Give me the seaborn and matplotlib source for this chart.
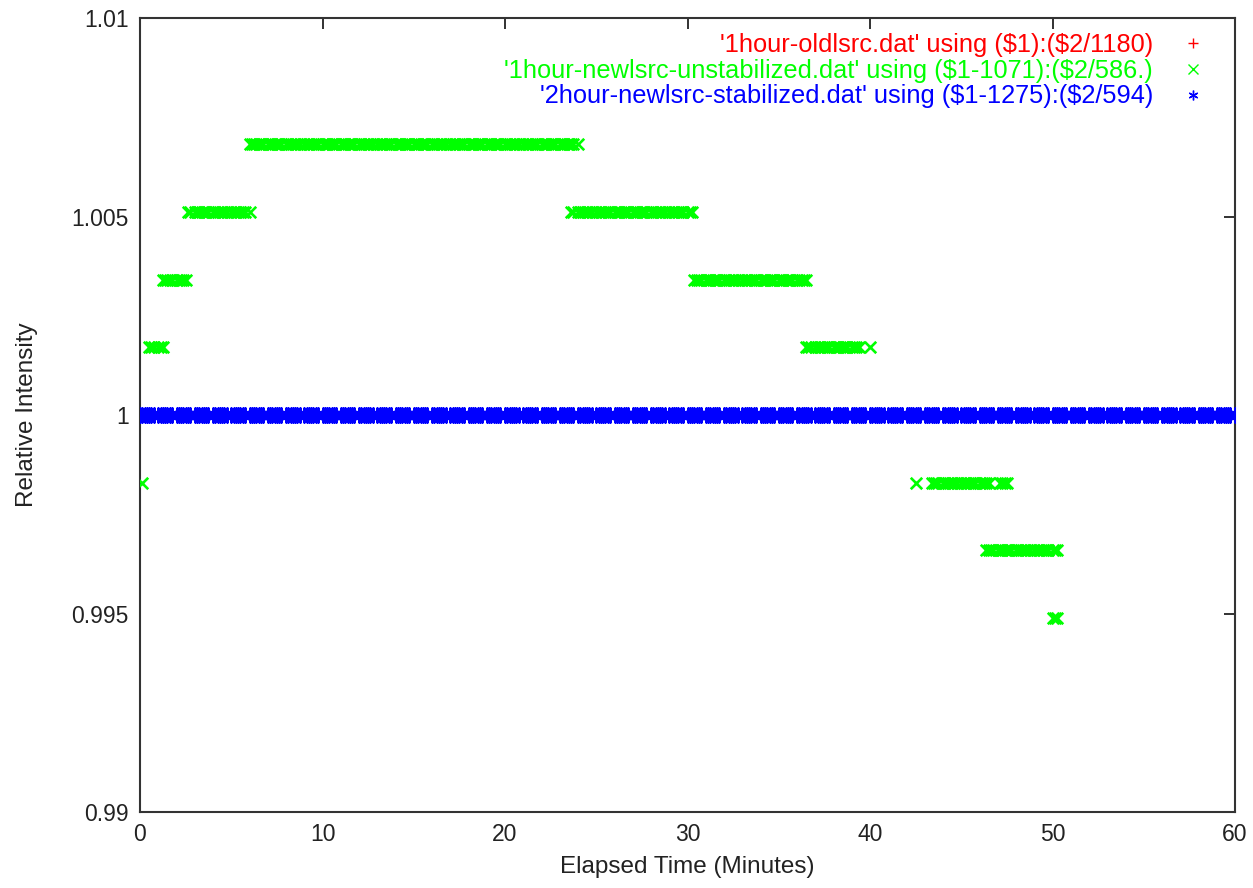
import numpy as np
import pandas as pd
import seaborn as sns
import matplotlib.pyplot as plt
from matplotlib.lines import Line2D

# ---------------- data ----------------
# sample clock: readings every 7.5 s, with the last slot of each minute empty
samples_per_minute_offsets = [0.0, 0.125, 0.25, 0.375, 0.5, 0.625, 0.75]
t_max = 60

# green series: '1hour-newlsrc-unstabilized.dat'  -> counts / 586
green_counts = [586, 585, 587, 588, 589, 590, 589, 588, 587, 587, 585, 585, 585, 584, 583]
green_start = [0.0, 0.125, 0.5, 1.2, 2.6, 6.0, 23.6, 30.3, 36.5, 40.0, 42.5, 43.3, 47.1, 46.3, 50.0]
green_end = [0.0, 0.125, 1.3, 2.5, 6.1, 24.0, 30.3, 36.5, 39.4, 40.0, 42.5, 46.5, 47.5, 50.3, 50.25]
green_norm = 586.0

# blue series: '2hour-newlsrc-stabilized.dat' -> counts / 594
blue_counts = [594]
blue_start = [0.0]
blue_end = [60.0]
blue_norm = 594.0

# red series: '1hour-oldlsrc.dat' -> not visible inside the plotted range
red_x = []
red_y = []

labels = [
    r"'1hour-oldlsrc.dat' using (\$1):(\$2/1180)",
    r"'1hour-newlsrc-unstabilized.dat' using (\$1-1071):(\$2/586.)",
    r"'2hour-newlsrc-stabilized.dat' using (\$1-1275):(\$2/594)",
]
x_ticks = [0, 10, 20, 30, 40, 50, 60]
y_ticks = [0.99, 0.995, 1.0, 1.005, 1.01]
y_tick_labels = ["0.99", "0.995", "1", "1.005", "1.01"]

# ---------------- build sample tables ----------------
clock = np.array(sorted({round(m + o, 6) for m in range(t_max + 1) for o in samples_per_minute_offsets}))
clock = clock[clock <= t_max + 1e-9]


def expand(starts, ends, counts, norm):
    xs, ys = [], []
    for s, e, c in zip(starts, ends, counts):
        sel = clock[(clock >= s - 1e-6) & (clock <= e + 1e-6)]
        xs.extend(sel)
        ys.extend([c / norm] * len(sel))
    return pd.DataFrame({"t": xs, "rel": ys})


green_df = expand(green_start, green_end, green_counts, green_norm)
blue_df = expand(blue_start, blue_end, blue_counts, blue_norm)

# ---------------- plot ----------------
sns.set_theme(style="white")
plt.rcParams["font.family"] = ["Liberation Sans", "DejaVu Sans"]

RED, GREEN, BLUE = "#ff0000", "#00ff00", "#0000ff"
FS = 16.5
FS_LABEL = 17.5
FS_LEG = 18.3

fig = plt.figure(figsize=(12.53, 8.88), dpi=100)
ax = fig.add_axes([140 / 1253, 1 - 812 / 888, (1235 - 140) / 1253, (812 - 18) / 888])

blue_marker = (6, 2, 0)

sns.scatterplot(data=green_df, x="t", y="rel", marker="x", color=GREEN, s=68,
                linewidth=1.9, ax=ax, legend=False, zorder=3)
sns.scatterplot(data=blue_df, x="t", y="rel", marker=blue_marker, color=BLUE, s=95,
                linewidth=2.0, ax=ax, legend=False, zorder=4)

ax.set_xlim(0, 60)
ax.set_ylim(0.99, 1.01)
ax.set_xticks(x_ticks)
ax.set_xticklabels([str(v) for v in x_ticks])
ax.set_yticks(y_ticks)
ax.set_yticklabels(y_tick_labels)
ax.tick_params(axis="both", which="major", direction="in", length=8, width=1.3,
               top=True, right=True, labelsize=FS, colors="#222222", pad=8)
ax.tick_params(axis="both", labelcolor="#222222")
for sp in ax.spines.values():
    sp.set_visible(True)
    sp.set_color("#333333")
    sp.set_linewidth(1.5)

ax.set_xlabel("Elapsed Time (Minutes)", fontsize=FS_LABEL, color="#222222", labelpad=7)
ax.set_ylabel("Relative Intensity", fontsize=FS_LABEL, color="#222222", labelpad=24)
ax.grid(False)

handles = [
    Line2D([], [], linestyle="", marker="+", color=RED, markersize=7, markeredgewidth=1.0),
    Line2D([], [], linestyle="", marker="x", color=GREEN, markersize=7, markeredgewidth=1.0),
    Line2D([], [], linestyle="", marker=blue_marker, color=BLUE, markersize=7, markeredgewidth=1.0),
]
leg = ax.legend(handles, labels, loc="upper right", bbox_to_anchor=(1.0055, 1.01),
                markerfirst=False, frameon=False, fontsize=FS_LEG, handlelength=2.0,
                handletextpad=0.56, labelspacing=0.07, borderaxespad=0.5)
for txt, col in zip(leg.get_texts(), [RED, GREEN, BLUE]):
    txt.set_color(col)

fig.savefig("out.png", dpi=100, facecolor="white")
